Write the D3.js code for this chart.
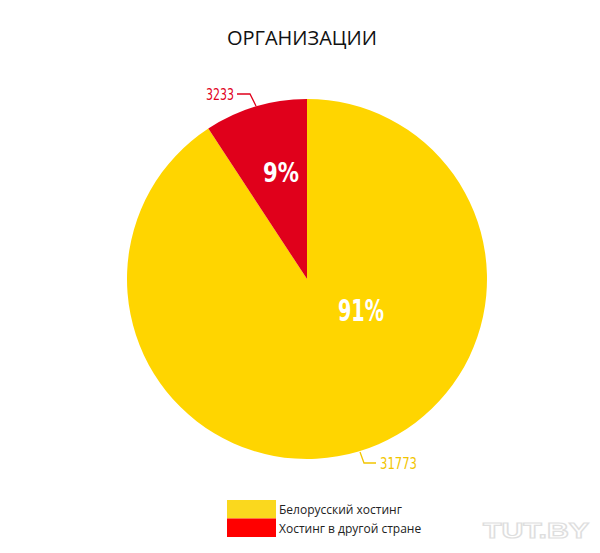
<!DOCTYPE html>
<html><head><meta charset="utf-8">
<script src="https://cdn.jsdelivr.net/npm/d3@7"></script>
<style>body{margin:0;background:#fff;}svg{display:block;}</style>
</head><body>
<svg id="c" width="600" height="553"></svg>
<script>
const categories = ["Белорусский хостинг", "Хостинг в другой стране"];
const values = [31773, 3233];
const percentLabels = ["91%", "9%"];
const pieColors = ["#ffd500", "#e0001b"];
const legendColors = ["#fad81e", "#ff0000"];
const labelColors = ["#f2c500", "#e0001b"];

const svg = d3.select("#c");
const cx = 307, cy = 279, r = 180;

svg.append("text").attr("x", 302).attr("y", 45).attr("text-anchor", "middle")
  .attr("font-family", "Open Sans, sans-serif").attr("font-size", 20).attr("fill", "#111")
  .text("ОРГАНИЗАЦИИ");

const pie = d3.pie().sort(null).value(d => d)(values);
const arc = d3.arc().innerRadius(0).outerRadius(r);
const g = svg.append("g").attr("transform", `translate(${cx},${cy})`);
g.selectAll("path").data(pie).join("path").attr("d", arc).attr("fill", (d, i) => pieColors[i]);

// percentage labels (condensed bold)
const pctPos = [[54, 42], [-26, -97]];
const pctSize = [30, 27];
const pctWidth = [46, 36];
g.selectAll("text.pct").data(pie).join("text").attr("class", "pct")
  .attr("x", (d, i) => pctPos[i][0] - pctWidth[i] / 2).attr("y", (d, i) => pctPos[i][1])
  .attr("font-family", "DejaVu Sans, sans-serif")
  .attr("font-weight", "bold").attr("font-size", (d, i) => pctSize[i])
  .attr("textLength", (d, i) => pctWidth[i]).attr("lengthAdjust", "spacingAndGlyphs")
  .attr("fill", "#fff").text((d, i) => percentLabels[i]);

// callouts
const fmt = d3.format("d");
const callouts = [
  { pts: [[360, 452], [364, 463], [376, 463]], tx: 380, ty: 469, w: 37 },
  { pts: [[256, 106], [250, 94], [237, 94]], tx: 206, ty: 100, w: 28 }
];
callouts.forEach((c, i) => {
  svg.append("path").attr("d", d3.line()(c.pts)).attr("fill", "none")
    .attr("stroke", labelColors[i]).attr("stroke-width", 1.3);
  svg.append("text").attr("x", c.tx).attr("y", c.ty)
    .attr("font-family", "DejaVu Sans, sans-serif")
    .attr("font-size", 15).attr("textLength", c.w).attr("lengthAdjust", "spacingAndGlyphs")
    .attr("fill", labelColors[i]).text(fmt(values[i]));
});

// legend
const lg = svg.append("g").attr("transform", "translate(227,500)");
categories.forEach((c, i) => {
  lg.append("rect").attr("x", 0).attr("y", i * 18.5).attr("width", 49).attr("height", 18.5)
    .attr("fill", legendColors[i]);
  lg.append("text").attr("x", 52).attr("y", i * 18.5 + 14)
    .attr("font-family", "Open Sans, sans-serif").attr("font-size", 12).attr("fill", "#222").text(c);
});

// watermark
svg.append("text").attr("x", 483).attr("y", 538)
  .attr("font-family", "Liberation Sans, sans-serif").attr("font-weight", "bold")
  .attr("font-size", 22).attr("textLength", 106).attr("lengthAdjust", "spacingAndGlyphs")
  .attr("fill", "#fff").attr("stroke", "#dedede").attr("stroke-width", 1.2)
  .text("TUT.BY");
</script>
</body></html>
